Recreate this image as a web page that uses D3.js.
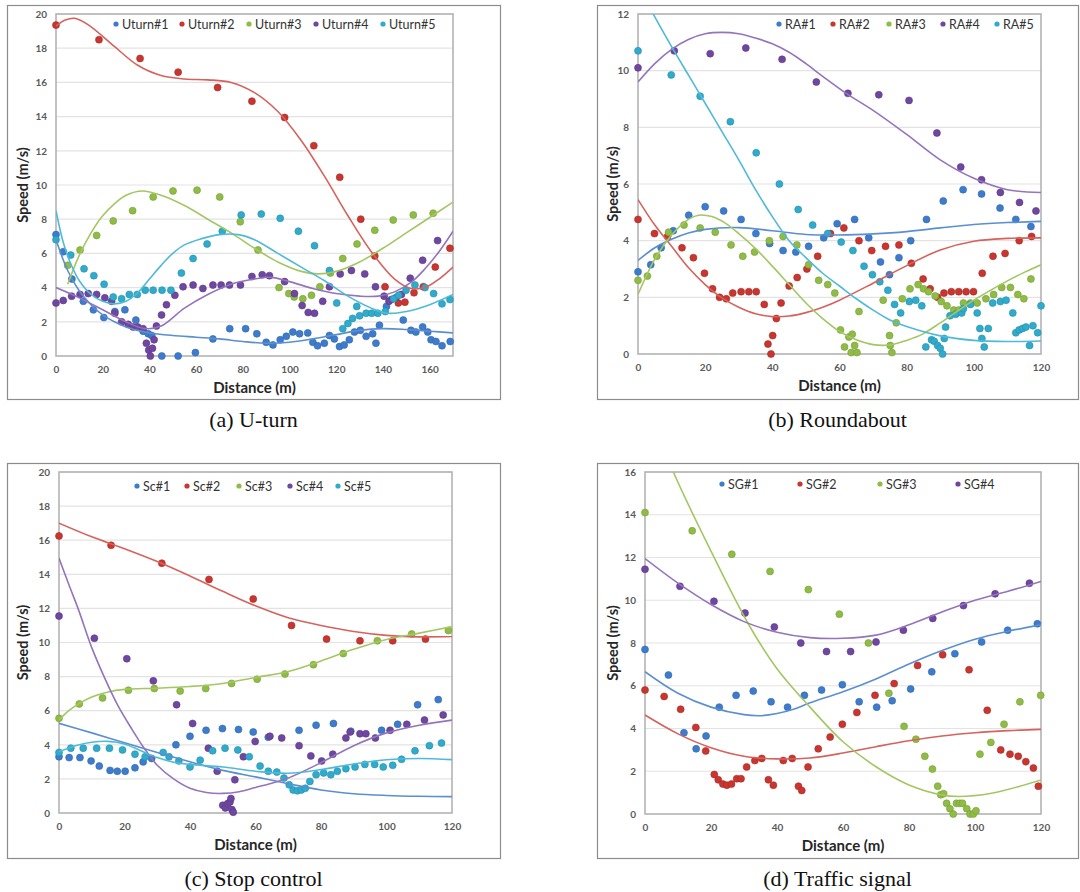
<!DOCTYPE html>
<html>
<head>
<meta charset="utf-8">
<script src="https://cdn.jsdelivr.net/npm/d3@7"></script>
<style>
  body { margin: 0; background: #fff; }
  svg { display: block; }
</style>
</head>
<body>
<script>
// ---------- (a) U-turn ----------
var uturn1 = [[0,7.1],[3.1,6.1],[6.8,4.5],[11.7,3.2],[16,2.7],[20.5,2.25],[25.2,2.6],[29.5,2.7],[34.2,2.1],[37.3,1.45],[39.5,1.3],[41,1.2],[45.3,0],[52.3,0],[59.7,0.2],[67.2,1.0],[74.4,1.6],[81.2,1.6],[86,1.3],[90,0.8],[92.9,0.65],[96,0.95],[98.6,1.15],[101.4,1.4],[104.3,1.3],[107.8,1.35],[110,0.8],[112,0.6],[114.9,0.75],[117.1,1.2],[119.2,1.0],[121.4,0.55],[123.4,0.65],[125.6,0.95],[127.8,1.4],[130.3,1.5],[132.8,1.15],[135.6,1.3],[137,0.75],[138.5,1.8],[141.5,2.9],[143.5,3.3],[148.7,2.1],[152,1.5],[154.1,1.4],[157,1.7],[159.2,1.4],[160.6,0.95],[162.7,0.85],[165.3,0.6],[168.8,0.85]];
var uturn2 = [[0,19.35],[18.4,18.5],[36,17.4],[52.3,16.6],[69.2,15.7],[83.9,14.9],[97.9,13.95],[110.4,12.3],[121.5,10.45],[130.5,8.0],[136.5,5.85],[140.9,4.05],[146.6,3.1],[149.4,3.15],[153.3,3.7],[157.3,4.05],[162.4,5.2],[168.7,6.3]];
var uturn3 = [[5,5.3],[10.3,6.2],[17.4,7.05],[24.5,7.9],[32.8,8.5],[41.6,9.3],[50.1,9.65],[60.4,9.7],[70.1,9.3],[78.9,7.85],[86.5,6.2],[95.5,4.0],[99.7,3.65],[102,3.45],[105.7,3.35],[109.4,3.55],[113,4.05],[117.5,4.85],[122.8,5.7],[128.9,6.55],[136.5,7.35],[144.4,7.95],[153,8.25],[161.5,8.35]];
var uturn4 = [[0,3.1],[3.1,3.25],[6.7,3.5],[10.3,3.6],[13.8,3.65],[17.4,3.6],[20.9,3.4],[23.8,3.2],[25.2,2.5],[28.1,2.0],[30.9,1.85],[33,1.7],[35,1.7],[37.3,1.6],[38.7,0.75],[39.7,0.35],[40.4,0],[41.3,0.45],[42,0.95],[43,1.75],[45.2,2.4],[47.3,3.0],[50.9,3.55],[54.4,4.05],[58.7,4.15],[62.9,3.95],[67.2,4.15],[70.7,4.15],[74.3,4.15],[79,4.15],[83.9,4.65],[88.3,4.75],[91.4,4.7],[97.9,4.35],[102.1,3.65],[105.4,2.95],[108,2.55],[110.7,2.5],[114.2,3.2],[117.1,4.05],[121.7,4.8],[126.5,5.0],[132.2,4.8],[136.8,4.05],[140.5,3.5],[142.6,3.2],[145.5,3.4],[147.9,3.6],[151.7,4.55],[157,5.6],[163.4,6.75]];
var uturn5 = [[0,6.8],[6.3,5.9],[12,5.1],[16.2,4.7],[20.6,4.2],[24.5,3.45],[28.1,3.35],[31.4,3.6],[34.8,3.6],[38.2,3.85],[41.6,3.85],[45.4,3.85],[49.2,3.85],[53.7,4.85],[58.7,5.7],[64.7,6.55],[71.2,7.3],[79.3,8.25],[87.9,8.3],[96,8.05],[103.8,7.3],[110.7,6.45],[117.1,5.0],[120.2,3.1],[122.8,1.6],[125,1.9],[127,2.2],[128.8,2.9],[130,2.35],[132.8,2.5],[135.2,2.5],[137.8,2.5],[141,2.6],[144.6,3.35],[146.7,3.55],[149.9,3.85],[153.7,4.15],[158,4.0],[161.7,3.65],[165.3,3.05],[168.7,3.3]];
var uturn1Trend = [[0,6.8],[5,5.0],[10,3.8],[15,3.0],[20,2.4],[25,2.0],[30,1.7],[35,1.5],[40,1.35],[50,1.2],[60,1.1],[70,1.0],[80,0.85],[90,0.75],[100,0.8],[110,1.0],[120,1.25],[130,1.5],[140,1.6],[150,1.55],[160,1.45],[170,1.35]];
var uturn2Trend = [[0,19.3],[4,19.65],[8,19.75],[14,19.35],[25,18.1],[35,17.0],[45,16.4],[55,16.2],[65,16.15],[75,16.0],[85,15.4],[95,14.3],[105,12.6],[115,10.5],[125,8.2],[135,6.1],[145,4.5],[152,3.95],[158,4.0],[164,4.5],[170,5.2]];
var uturn3Trend = [[5,4.2],[10,5.9],[15,7.2],[20,8.2],[25,8.9],[30,9.4],[37,9.65],[45,9.4],[55,8.8],[65,8.0],[75,7.2],[85,6.3],[95,5.5],[105,4.95],[112,4.8],[120,4.95],[130,5.5],[140,6.3],[150,7.2],[160,8.1],[170,9.0]];
var uturn4Trend = [[0,4.0],[10,3.4],[20,2.7],[30,2.0],[38,1.6],[45,1.75],[55,2.8],[65,3.6],[75,4.2],[85,4.5],[92,4.6],[100,4.35],[110,3.95],[120,3.65],[130,3.5],[138,3.5],[145,3.75],[152,4.3],[158,5.1],[164,6.1],[170,7.3]];
var uturn5Trend = [[0,8.5],[3,6.7],[6,5.5],[10,4.4],[15,3.6],[20,3.2],[25,3.05],[30,3.2],[35,3.7],[40,4.5],[45,5.3],[50,6.0],[55,6.5],[62,6.85],[70,7.1],[78,7.1],[85,6.8],[95,6.0],[105,5.2],[115,4.4],[125,3.5],[135,2.8],[142,2.5],[150,2.6],[160,3.0],[170,3.6]];

// ---------- (b) Roundabout ----------
var ra1 = [[0,2.9],[3.8,3.15],[6.9,3.75],[10.5,4.35],[15.1,4.9],[20,5.2],[25.5,5.05],[30.7,4.75],[35.1,4.25],[39.2,3.9],[43.2,3.65],[47,3.6],[50.8,3.8],[55.3,4.1],[59.3,4.6],[64.5,4.75],[68.7,4.1],[72.2,3.25],[74.9,2.8],[77.7,3.4],[81.2,4.0],[85.9,4.75],[90.9,5.4],[96.8,5.8],[102.3,5.65],[107.8,5.15],[112.5,4.75],[117,4.5]];
var ra2 = [[0,4.75],[4.9,4.25],[8.8,4.15],[13.1,3.75],[16.5,3.4],[19.8,2.85],[22.2,2.3],[24.3,2.0],[26.3,1.95],[28.2,2.15],[30.7,2.2],[33,2.2],[35.2,2.2],[37.6,1.75],[38.7,0.35],[39.6,0],[40.1,0.65],[41.2,1.25],[42.6,1.8],[45,2.4],[47.4,2.7],[50.3,3.0],[53.5,3.45],[57.3,4.25],[61.3,4.45],[65.8,4.0],[69.6,3.65],[73.7,3.8],[77.7,3.85],[81.4,3.2],[84.9,2.65],[87,2.3],[89.2,2.0],[91.1,2.15],[93.3,2.2],[95.5,2.2],[97.7,2.2],[99.9,2.2],[102.5,2.85],[105.7,3.45],[109.3,3.55],[113.5,4.0],[117.2,4.15]];
var ra3 = [[0,2.6],[2.8,2.75],[5.6,3.45],[9.1,4.3],[13.7,4.55],[18.5,4.45],[23,4.3],[27.7,3.85],[31.2,3.45],[34.7,3.6],[39.1,4.0],[43.2,4.15],[47.3,3.85],[50.8,3.15],[53.8,2.6],[56.5,2.45],[58.6,2.15],[60.3,0.85],[61.5,0.25],[62.8,0.6],[63.5,0.05],[63.8,0.7],[64.5,0.3],[65.2,0.05],[65.8,1.5],[73,1.9],[74.9,0.65],[75.1,0.3],[75.6,0.05],[76.9,1.1],[78.7,1.95],[81,2.3],[83.4,2.45],[85,2.3],[86.5,2.2],[88.5,2.05],[90.3,1.85],[92,1.7],[94,1.55],[95.5,1.55],[96.9,1.8],[99,1.8],[101,1.8],[103.6,1.95],[105.9,2.1],[108.3,2.35],[110.9,2.35],[113.1,2.1],[114.9,1.95],[117,2.65]];
var ra4 = [[0,10.1],[10.8,10.7],[21.5,10.6],[32.1,10.8],[42.9,10.4],[53.1,9.6],[62.5,9.2],[71.7,9.15],[80.7,8.95],[89,7.8],[96.1,6.6],[102.3,6.15],[107.9,5.7],[113.6,5.35],[118.5,5.05]];
var ra5 = [[0,10.7],[9.9,9.85],[18.5,9.1],[27.5,8.2],[35.2,7.1],[42.1,6.0],[47.7,5.1],[52,4.55],[56.5,4.25],[60.5,3.95],[64,3.65],[67.3,3.1],[69.8,2.8],[72,2.55],[74.4,2.25],[76.4,1.75],[78.2,1.45],[80.8,1.85],[82.7,1.9],[84.5,1.7],[85.7,0.25],[87.4,0.5],[88.2,0.45],[89.2,0.3],[90,0.2],[90.7,0],[91.2,0.55],[91.6,0.95],[92.9,1.35],[94.6,1.4],[96.4,1.45],[96.9,1.6],[99,1.75],[101,1.45],[101.8,0.9],[102.4,0.55],[103.1,0.25],[104.3,0.9],[105.6,1.8],[107.9,1.85],[109.6,1.9],[111.6,1.45],[112.5,0.75],[113.5,0.85],[114.5,0.9],[115.5,0.95],[116.6,0.3],[117.6,1.0],[119,0.75],[120,1.7]];
var ra1Trend = [[0,3.3],[5,3.75],[10,4.05],[15,4.27],[20,4.4],[30,4.46],[40,4.35],[50,4.22],[60,4.2],[70,4.24],[80,4.32],[90,4.45],[100,4.57],[110,4.64],[120,4.68]];
var ra2Trend = [[0,5.45],[5,4.55],[10,3.8],[15,3.05],[20,2.45],[25,1.98],[30,1.65],[35,1.42],[40,1.32],[45,1.34],[50,1.46],[55,1.65],[60,1.9],[70,2.5],[80,3.12],[90,3.67],[100,3.98],[110,4.08],[120,4.1]];
var ra3Trend = [[0,2.1],[5,3.35],[10,4.2],[15,4.75],[18,4.9],[22,4.85],[26,4.62],[30,4.25],[35,3.72],[40,3.1],[45,2.45],[50,1.8],[55,1.25],[60,0.8],[65,0.5],[70,0.33],[75,0.32],[80,0.48],[85,0.72],[90,1.1],[95,1.5],[100,1.9],[105,2.25],[110,2.58],[115,2.88],[120,3.15]];
var ra4Trend = [[0,9.6],[5,10.25],[10,10.75],[15,11.1],[20,11.3],[25,11.35],[30,11.3],[35,11.15],[40,10.95],[45,10.65],[50,10.25],[55,9.8],[62,9.2],[70,8.6],[80,7.75],[90,6.85],[100,6.2],[110,5.8],[120,5.7]];
var ra5Trend = [[0,13.0],[5,11.9],[10,10.85],[15,9.85],[20,8.85],[25,7.85],[30,6.85],[35,5.8],[40,4.85],[45,4.0],[50,3.4],[55,2.85],[60,2.4],[65,1.95],[70,1.55],[75,1.2],[80,0.97],[90,0.64],[100,0.48],[110,0.44],[120,0.46]];

// ---------- (c) Stop control ----------
var sc1 = [[0,3.3],[3.1,3.25],[6.4,3.25],[9.8,3.05],[12.3,2.75],[15.6,2.5],[17.8,2.45],[20.2,2.45],[23.2,2.65],[25.7,3.0],[28.3,3.2],[35.7,4.0],[40,4.5],[44.9,4.85],[49.9,4.95],[54.8,4.9],[59.3,4.75],[63.9,4.45],[73.3,4.85],[78.5,5.15],[83.8,5.25],[89.1,4.8],[98.5,4.85],[103.4,5.2],[109.5,6.35],[115.8,6.65]];
var sc2 = [[0,16.25],[15.9,15.7],[31.4,14.65],[45.8,13.7],[59.3,12.55],[71,11.0],[81.7,10.2],[91.9,10.1],[101.9,10.1],[111.9,10.2]];
var sc3 = [[0,5.55],[6.2,6.4],[13.3,6.75],[21.2,7.2],[29.1,7.3],[37,7.15],[44.8,7.3],[52.7,7.6],[60.5,7.85],[69,8.15],[77.7,8.7],[86.8,9.35],[97.2,10.1],[107.7,10.5],[118.9,10.7]];
var sc4 = [[0,11.55],[10.8,10.25],[20.7,9.05],[28.8,7.75],[35.9,6.35],[40.8,5.25],[45.6,3.8],[48.3,2.45],[50,0.45],[50.8,0.3],[51.5,0.55],[52.2,0.65],[52.5,0.85],[52.8,0.2],[53.2,0.05],[53.7,1.95],[56.3,3.3],[59.9,4.2],[64.4,4.5],[68,4.4],[73.3,3.95],[76.9,3.35],[80.2,3.05],[83.6,3.45],[87.6,4.4],[88.9,4.75],[91.9,4.65],[93.7,4.65],[96.6,4.4],[101.1,4.85],[106.2,5.2],[111.6,5.45],[117.3,5.75]];
var sc5 = [[0,3.55],[3.6,3.8],[7.4,3.8],[11.5,3.8],[15.4,3.8],[19.4,3.7],[23.2,3.45],[26.3,3.3],[31.8,3.55],[33.6,3.3],[36.6,3.05],[40,2.7],[43.1,3.1],[46.9,3.65],[50.7,3.8],[54.6,3.7],[58.1,3.3],[61.4,2.75],[63.9,2.45],[66.5,2.4],[68.7,2.05],[70.3,1.65],[71.5,1.35],[72.8,1.3],[74,1.35],[75.2,1.45],[76.6,1.85],[78.5,2.25],[80.8,2.35],[83,2.25],[85,2.45],[87.6,2.6],[90.4,2.7],[93.4,2.85],[96.4,2.85],[99,2.7],[101.9,2.8],[104.6,3.15],[108.7,3.65],[113.1,3.95],[116.8,4.1]];
var sc1Trend = [[0,5.26],[10,4.7],[20,4.12],[30,3.55],[40,3.0],[50,2.5],[60,2.12],[70,1.72],[80,1.35],[90,1.13],[100,1.03],[110,0.98],[120,0.96]];
var sc2Trend = [[0,17.0],[10,16.2],[20,15.5],[30,14.75],[40,13.9],[50,13.0],[60,12.15],[70,11.45],[80,11.0],[90,10.65],[100,10.42],[110,10.33],[120,10.35]];
var sc3Trend = [[0,5.45],[3,6.0],[6,6.4],[10,6.8],[15,7.1],[20,7.25],[30,7.32],[40,7.42],[50,7.6],[60,7.95],[70,8.3],[80,8.92],[90,9.6],[100,10.18],[110,10.55],[120,10.93]];
var sc4Trend = [[0,14.95],[3,13.4],[6,11.9],[10,9.7],[14,7.9],[18,6.3],[22,5.0],[26,3.8],[30,2.8],[35,2.0],[40,1.45],[45,1.2],[50,1.15],[55,1.25],[60,1.5],[65,1.75],[70,2.05],[80,2.95],[90,3.95],[100,4.7],[110,5.15],[120,5.45]];
var sc5Trend = [[0,3.6],[5,3.95],[10,4.15],[15,4.2],[20,4.05],[25,3.65],[30,3.25],[35,2.98],[40,2.85],[50,2.7],[60,2.45],[70,2.33],[80,2.55],[90,2.87],[100,3.12],[110,3.2],[120,3.13]];

// ---------- (d) Traffic signal ----------
var sg1 = [[0,7.7],[7.1,6.5],[11.8,3.8],[15.5,3.05],[18.5,3.65],[22.5,5.0],[27.6,5.55],[32.8,5.75],[38.2,5.25],[43.2,5.0],[48.3,5.55],[53.5,5.8],[59.8,6.05],[64.9,5.25],[70.2,5.0],[74.9,5.3],[80.5,5.85],[86.9,6.65],[93.9,7.5],[102,8.05],[109.9,8.6],[118.9,8.9]];
var sg2 = [[0,5.8],[5.8,5.5],[10.8,4.9],[15.4,4.05],[18.4,2.95],[21,1.85],[22.2,1.6],[23.6,1.4],[24.8,1.35],[26.2,1.4],[27.8,1.65],[29.1,1.65],[30.8,2.2],[33.3,2.5],[35.4,2.6],[37.4,1.6],[38.9,1.35],[41.9,2.5],[44.6,2.6],[46.5,1.3],[47.5,1.1],[49.4,2.2],[52.5,3.05],[56.1,3.6],[59.8,4.2],[64.2,4.75],[69.7,5.55],[75.5,6.1],[82.6,6.95],[90.2,7.45],[98.2,6.75],[103.7,4.85],[107.8,3.0],[110.6,2.8],[113.1,2.7],[115.4,2.45],[117.7,2.15],[119.2,1.3]];
var sg3 = [[0,14.1],[14.3,13.25],[26.3,12.15],[37.9,11.35],[49.5,10.5],[58.9,9.35],[67.7,8.0],[73.9,5.65],[78.5,4.1],[82.1,3.5],[84.8,2.7],[87.1,2.1],[88.7,1.3],[89.6,0.9],[90.5,0.95],[91.4,0.5],[92.4,0.25],[93.4,0],[94.4,0.5],[95.4,0.5],[96.2,0.5],[97.5,0.25],[98.5,0],[99.5,0],[100.3,0.15],[101.5,2.8],[104.8,3.35],[108.8,4.2],[113.6,5.25],[119.9,5.55]];
var sg4 = [[0,11.45],[10.6,10.65],[20.9,9.95],[30.3,9.4],[39.2,8.75],[47.2,8.0],[55,7.6],[62.3,7.6],[70,8.05],[78.3,8.6],[87.2,9.15],[96.5,9.75],[106.1,10.3],[116.5,10.8]];
var sg1Trend = [[0,6.66],[10,5.65],[20,5.0],[30,4.65],[35,4.6],[40,4.7],[45,4.9],[50,5.2],[60,5.72],[70,6.32],[80,7.02],[90,7.65],[100,8.18],[110,8.55],[120,8.85]];
var sg2Trend = [[0,4.63],[10,3.75],[20,3.1],[30,2.7],[40,2.58],[50,2.62],[60,2.85],[70,3.15],[80,3.43],[90,3.65],[100,3.8],[110,3.9],[120,3.96]];
var sg3Trend = [[0,19.4],[8.6,16.0],[20,12.3],[31.8,8.76],[40,6.8],[50,5.0],[60,3.38],[70,2.21],[80,1.36],[90,0.89],[95,0.82],[105,0.97],[120,1.59]];
var sg4Trend = [[0,11.95],[10,10.8],[20,9.8],[30,9.0],[40,8.5],[50,8.25],[60,8.22],[70,8.37],[80,8.85],[90,9.45],[100,10.0],[110,10.42],[120,10.88]];

// axis ticks
var distTicksA = [0,20,40,60,80,100,120,140,160];
var distTicksB = [0,20,40,60,80,100,120];
var speedTicks20 = [0,2,4,6,8,10,12,14,16,18,20];
var speedTicks12 = [0,2,4,6,8,10,12];
var speedTicks16 = [0,2,4,6,8,10,12,14,16];

var pointColors = ["#3d7ccc", "#c9352f", "#8fbc44", "#6f46a0", "#2fabcc"];
var lineColors  = ["#5a8fd2", "#d6625c", "#a3c763", "#9474bd", "#4fbad8"];

var panels = [
  { frame: [7, 5, 500, 399], plot: [56, 14, 453, 356], xMax: 170, yMax: 20, xTicks: distTicksA, yTicks: speedTicks20,
    names: ["Uturn#1","Uturn#2","Uturn#3","Uturn#4","Uturn#5"],
    pts: [uturn1, uturn2, uturn3, uturn4, uturn5],
    trends: [uturn1Trend, uturn2Trend, uturn3Trend, uturn4Trend, uturn5Trend],
    legendX: [116, 182, 249, 316, 383], legendY: 24, caption: "(a) U-turn" },
  { frame: [597, 5, 1078, 399], plot: [638, 14, 1041, 354], xMax: 120, yMax: 12, xTicks: distTicksB, yTicks: speedTicks12,
    names: ["RA#1","RA#2","RA#3","RA#4","RA#5"],
    pts: [ra1, ra2, ra3, ra4, ra5],
    trends: [ra1Trend, ra2Trend, ra3Trend, ra4Trend, ra5Trend],
    legendX: [779, 833, 889, 943, 997], legendY: 24, caption: "(b) Roundabout" },
  { frame: [7, 463, 500, 858], plot: [59, 472, 452, 813], xMax: 120, yMax: 20, xTicks: distTicksB, yTicks: speedTicks20,
    names: ["Sc#1","Sc#2","Sc#3","Sc#4","Sc#5"],
    pts: [sc1, sc2, sc3, sc4, sc5],
    trends: [sc1Trend, sc2Trend, sc3Trend, sc4Trend, sc5Trend],
    legendX: [137, 187, 239, 290, 338], legendY: 486, caption: "(c) Stop control" },
  { frame: [597, 463, 1078, 858], plot: [645, 472, 1041, 814], xMax: 120, yMax: 16, xTicks: distTicksB, yTicks: speedTicks16,
    names: ["SG#1","SG#2","SG#3","SG#4"],
    pts: [sg1, sg2, sg3, sg4],
    trends: [sg1Trend, sg2Trend, sg3Trend, sg4Trend],
    legendX: [722, 800, 880, 958], legendY: 484, caption: "(d) Traffic signal" }
];

var svg = d3.select("body").append("svg")
    .attr("width", 1080)
    .attr("height", 892);

panels.forEach(function (p, i) { drawPanel(p, i); });

function drawPanel(p, idx) {
    var f = p.frame, pl = p.plot;

    // outer frame
    svg.append("rect")
        .attr("x", f[0] + 0.5).attr("y", f[1] + 0.5)
        .attr("width", f[2] - f[0]).attr("height", f[3] - f[1])
        .attr("fill", "#fff").attr("stroke", "#8c8c8c").attr("stroke-width", 1.2);

    var x = d3.scaleLinear().domain([0, p.xMax]).range([pl[0], pl[2]]);
    var y = d3.scaleLinear().domain([0, p.yMax]).range([pl[3], pl[1]]);

    // gridlines
    svg.append("g").selectAll("line").data(p.yTicks.slice(1)).enter().append("line")
        .attr("x1", pl[0]).attr("x2", pl[2])
        .attr("y1", function (d) { return y(d); }).attr("y2", function (d) { return y(d); })
        .attr("stroke", "#e3e3e3").attr("stroke-width", 1.2);

    // plot area border
    svg.append("rect")
        .attr("x", pl[0]).attr("y", pl[1])
        .attr("width", pl[2] - pl[0]).attr("height", pl[3] - pl[1])
        .attr("fill", "none").attr("stroke", "#b3b3b3").attr("stroke-width", 1.6);

    // axes
    var yAxis = svg.append("g")
        .attr("transform", "translate(" + pl[0] + ",0)")
        .call(d3.axisLeft(y).tickValues(p.yTicks).tickSize(0).tickPadding(9));
    var xAxis = svg.append("g")
        .attr("transform", "translate(0," + pl[3] + ")")
        .call(d3.axisBottom(x).tickValues(p.xTicks).tickSize(0).tickPadding(10));
    [xAxis, yAxis].forEach(function (a) {
        a.select(".domain").remove();
        a.selectAll("text")
            .style("font-family", "Lato, 'Open Sans', sans-serif")
            .style("font-size", "10px")
            .style("font-weight", "bold")
            .attr("fill", "#5a5a5a");
    });

    // axis titles
    var cy = (pl[1] + pl[3]) / 2;
    svg.append("text")
        .attr("transform", "translate(" + (f[0] + 21) + "," + cy + ") rotate(-90)")
        .attr("text-anchor", "middle")
        .style("font-family", "Lato, 'Open Sans', sans-serif")
        .style("font-size", "14.5px").style("font-weight", "bold")
        .attr("fill", "#262626")
        .text("Speed (m/s)");
    svg.append("text")
        .attr("x", (pl[0] + pl[2]) / 2).attr("y", pl[3] + 37)
        .attr("text-anchor", "middle")
        .style("font-family", "Lato, 'Open Sans', sans-serif")
        .style("font-size", "15px").style("font-weight", "bold")
        .attr("fill", "#262626")
        .text("Distance (m)");

    // clip for trend lines only
    var clipId = "clip" + idx;
    svg.append("clipPath").attr("id", clipId).append("rect")
        .attr("x", pl[0]).attr("y", pl[1])
        .attr("width", pl[2] - pl[0]).attr("height", pl[3] - pl[1]);

    var line = d3.line()
        .x(function (d) { return x(d[0]); })
        .y(function (d) { return y(d[1]); })
        .curve(d3.curveCatmullRom.alpha(0.5));

    // points
    p.pts.forEach(function (pts, s) {
        svg.append("g").selectAll("circle").data(pts).enter().append("circle")
            .attr("cx", function (d) { return x(d[0]); })
            .attr("cy", function (d) { return y(d[1]); })
            .attr("r", 3.5)
            .attr("fill", pointColors[s])
            .attr("stroke", d3.color(pointColors[s]).darker(0.5))
            .attr("stroke-width", 0.6);
    });

    // trend lines
    var g = svg.append("g").attr("clip-path", "url(#" + clipId + ")");
    p.trends.forEach(function (t, s) {
        g.append("path").datum(t)
            .attr("d", line)
            .attr("fill", "none")
            .attr("stroke", lineColors[s])
            .attr("stroke-width", 1.6);
    });

    // legend
    p.names.forEach(function (n, s) {
        svg.append("circle")
            .attr("cx", p.legendX[s]).attr("cy", p.legendY)
            .attr("r", 2.6).attr("fill", pointColors[s]);
        svg.append("text")
            .attr("x", p.legendX[s] + 6).attr("y", p.legendY + 4.5)
            .style("font-family", "Lato, 'Open Sans', sans-serif")
            .style("font-size", "12.5px")
            .attr("fill", "#333")
            .text(n);
    });

    // caption
    svg.append("text")
        .attr("x", (f[0] + f[2]) / 2).attr("y", f[3] + 28)
        .attr("text-anchor", "middle")
        .style("font-family", "'Liberation Serif', 'DejaVu Serif', serif")
        .style("font-size", "22px")
        .attr("fill", "#111")
        .text(p.caption);
}
</script>
</body>
</html>
